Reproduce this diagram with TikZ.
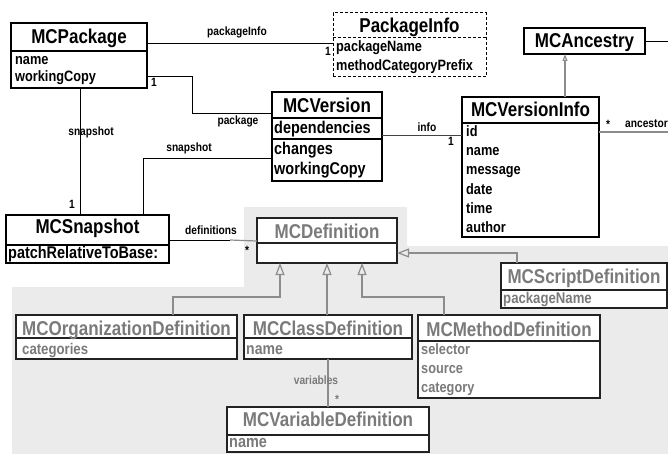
\documentclass[tikz,border=0pt]{standalone}
\usepackage{fontspec}
\usetikzlibrary{arrows.meta}
\newfontfamily\cond{Liberation Sans Bold}[FakeStretch=0.85]
\newcommand\fsz[1]{\cond\fontsize{#1}{#1}\selectfont}
\definecolor{bggray}{HTML}{EBEBEB}
\definecolor{txtgray}{HTML}{7A7A7A}
\definecolor{lngray}{HTML}{8C8C8C}
\definecolor{boxdark}{HTML}{222222}
\definecolor{lndark}{HTML}{444444}
\begin{document}
\begin{tikzpicture}[x=1pt,y=-1pt,
  cls/.style={draw=black, line width=1.2pt, fill=white, inner sep=0pt, outer sep=0pt, anchor=north west},
  gcls/.style={cls, draw=boxdark},
  hd/.style={anchor=base, font=\fsz{20}, inner sep=0pt},
  ghd/.style={hd, text=txtgray},
  attr/.style={anchor=base west, font=\fsz{15}, inner sep=0pt},
  gattr/.style={attr, text=txtgray},
  lb/.style={anchor=base, font=\fsz{12}, inner sep=0pt},
  glb/.style={lb, text=txtgray},
  conn/.style={line width=1pt, draw=black},
  dconn/.style={line width=1pt, draw=lndark},
  gconn/.style={line width=1.2pt, draw=lngray},
  inh/.style={-{Triangle[open, length=12pt, width=9pt]}},
  sepline/.style={line width=1.2pt},
  gsepline/.style={line width=1.2pt, draw=boxdark}]

\useasboundingbox (0,0) rectangle (668,454);
\clip (0,0) rectangle (668,454);

% grey background region
\fill[bggray] (244,207) -- (407,207) -- (407,246) -- (668,246) -- (668,454)
  -- (12,454) -- (12,287) -- (244,287) -- cycle;

% ---------- boxes ----------
\node[cls, minimum width=136pt, minimum height=65pt] (pkg) at (11,23) {};
\draw[sepline] (pkg.west |- 0,51) -- (pkg.east |- 0,51);
\node[hd] (pkgh) at (79,44) {MCPackage};
\node[attr] (pkga1) at (15,65) {name};
\node[attr] (pkga2) at (15,82) {workingCopy};

\node[cls, dash pattern=on 3pt off 2pt, line width=1pt, minimum width=153pt, minimum height=64pt] (pinfo) at (333,13) {};
\draw[line width=1pt, dash pattern=on 3pt off 2pt] (pinfo.west |- 0,38) -- (pinfo.east |- 0,38);
\node[hd] (pinfoh) at (409.5,33) {PackageInfo};
\node[attr] (pinfoa1) at (336,52) {packageName};
\node[attr] (pinfoa2) at (336,71) {methodCategoryPrefix};

\node[cls, minimum width=110pt, minimum height=89pt] (ver) at (272,92) {};
\draw[sepline] (ver.west |- 0,118) -- (ver.east |- 0,118);
\draw[sepline] (ver.west |- 0,139) -- (ver.east |- 0,139);
\node[hd] (verh) at (327,113) {MCVersion};
\node[attr, font=\fsz{17}] (vera1) at (274,134) {dependencies};
\node[attr, font=\fsz{17}] (vera2) at (274,155) {changes};
\node[attr, font=\fsz{17}] (vera3) at (274,175) {workingCopy};

\node[cls, minimum width=163pt, minimum height=48pt] (snap) at (6,215) {};
\draw[sepline] (snap.west |- 0,245) -- (snap.east |- 0,245);
\node[hd] (snaph) at (87.5,233) {MCSnapshot};
\node[attr, font=\fsz{17}] (snapa1) at (8,258) {patchRelativeToBase:};

\node[cls, minimum width=121pt, minimum height=26pt] (anc) at (524,28) {};
\node[hd] (anch) at (584.5,48) {MCAncestry};

\node[cls, minimum width=137pt, minimum height=140pt] (vinfo) at (462,97) {};
\draw[sepline] (vinfo.west |- 0,123) -- (vinfo.east |- 0,123);
\node[hd] (vinfoh) at (530.5,117) {MCVersionInfo};
\node[attr] (vinfoa1) at (466,137) {id};
\node[attr] (vinfoa2) at (466,156) {name};
\node[attr] (vinfoa3) at (466,175) {message};
\node[attr] (vinfoa4) at (466,194) {date};
\node[attr] (vinfoa5) at (466,213) {time};
\node[attr] (vinfoa6) at (466,232) {author};

\node[gcls, minimum width=140pt, minimum height=45pt] (def) at (257,218) {};
\draw[gsepline] (def.west |- 0,243) -- (def.east |- 0,243);
\node[ghd] (defh) at (327,238) {MCDefinition};

\node[gcls, minimum width=166pt, minimum height=45pt] (script) at (501,263) {};
\draw[gsepline] (script.west |- 0,290) -- (script.east |- 0,290);
\node[ghd] (scripth) at (584,283) {MCScriptDefinition};
\node[gattr, font=\fsz{15.5}] (scripta1) at (503,303) {packageName};

\node[gcls, minimum width=221pt, minimum height=44pt] (org) at (16,315) {};
\draw[gsepline] (org.west |- 0,338) -- (org.east |- 0,338);
\node[ghd] (orgh) at (126.5,335) {MCOrganizationDefinition};
\node[gattr, font=\fsz{15.5}] (orga1) at (22,354) {categories};

\node[gcls, minimum width=168pt, minimum height=44pt] (cls) at (244,315) {};
\draw[gsepline] (cls.west |- 0,338) -- (cls.east |- 0,338);
\node[ghd] (clsh) at (328,335) {MCClassDefinition};
\node[gattr, font=\fsz{16.5}] (clsa1) at (246,354) {name};

\node[gcls, minimum width=182pt, minimum height=83pt] (meth) at (418,315) {};
\draw[gsepline] (meth.west |- 0,341) -- (meth.east |- 0,341);
\node[ghd] (methh) at (509,336) {MCMethodDefinition};
\node[gattr] (metha1) at (421,354) {selector};
\node[gattr] (metha2) at (421,373) {source};
\node[gattr] (metha3) at (421,392) {category};

\node[gcls, minimum width=202pt, minimum height=45pt] (var) at (227,407) {};
\draw[gsepline] (var.west |- 0,435) -- (var.east |- 0,435);
\node[ghd] (varh) at (328,426) {MCVariableDefinition};
\node[gattr, font=\fsz{17}] (vara1) at (229,447) {name};

% ---------- connectors ----------
\draw[conn] (pkg.east |- 0,44) -- (pinfo.west |- 0,44);
\node[lb] (l-pinfo) at (237,36) {packageInfo};
\node[lb] (m-pinfo) at (328,56) {1};

\draw[conn] (pkg.east |- 0,77) -| (192,114) -- (ver.west |- 0,114);
\node[lb] (m-pkg) at (154,87) {1};
\node[lb] (l-pkg) at (238,125) {package};

\draw[conn] (ver.west |- 0,159) -| (snap.north -| 143,0);
\node[lb] (l-snap2) at (189,152) {snapshot};

\draw[conn] (pkg.south -| 80,0) -- (snap.north -| 80,0);
\node[lb] (l-snap1) at (91,136) {snapshot};
\node[lb] (m-snap1) at (72,208) {1};

\coordinate (defmid) at (230,240);
\draw[conn] (snap.east |- 0,240) -- (defmid);
\draw[gconn] (defmid) -- (def.west |- 0,241);
\node[lb] (l-def) at (211,234) {definitions};
\node[lb] (m-def) at (247,254) {*};

\draw[dconn] (ver.east |- 0,136) -- (vinfo.west |- 0,136);
\node[lb] (l-info) at (427,132) {info};
\node[lb] (m-info) at (451,146) {1};

\draw[gconn, -{Triangle[open, length=7pt, width=5pt]}] (vinfo.north -| 565,0) -- (anc.south -| 565,0);

\coordinate (ancR) at (670,42);
\draw[conn] (anc.east |- 0,42) -- (ancR);
\coordinate (ancB) at (670,132);
\draw[gconn] (vinfo.east |- 0,132) -- (ancB);
\node[lb] (m-anc) at (608,129) {*};
\node[lb, anchor=base west] (l-anc) at (625,128) {ancestors};

% inheritance
\draw[gconn, inh] (org.north -| 173,0) |- (280,297) -- (def.south -| 280,0);
\draw[gconn, inh] (cls.north -| 327,0) -- (def.south -| 327,0);
\draw[gconn, inh] (meth.north -| 444,0) |- (362,297) -- (def.south -| 362,0);
\draw[gconn, inh] (script.north -| 517,0) |- (def.east |- 0,253);

\draw[gconn] (cls.south -| 328,0) -- (var.north -| 328,0);
\node[glb] (l-var) at (316,384) {variables};
\node[glb] (m-var) at (337,403) {*};
\end{tikzpicture}
\end{document}
